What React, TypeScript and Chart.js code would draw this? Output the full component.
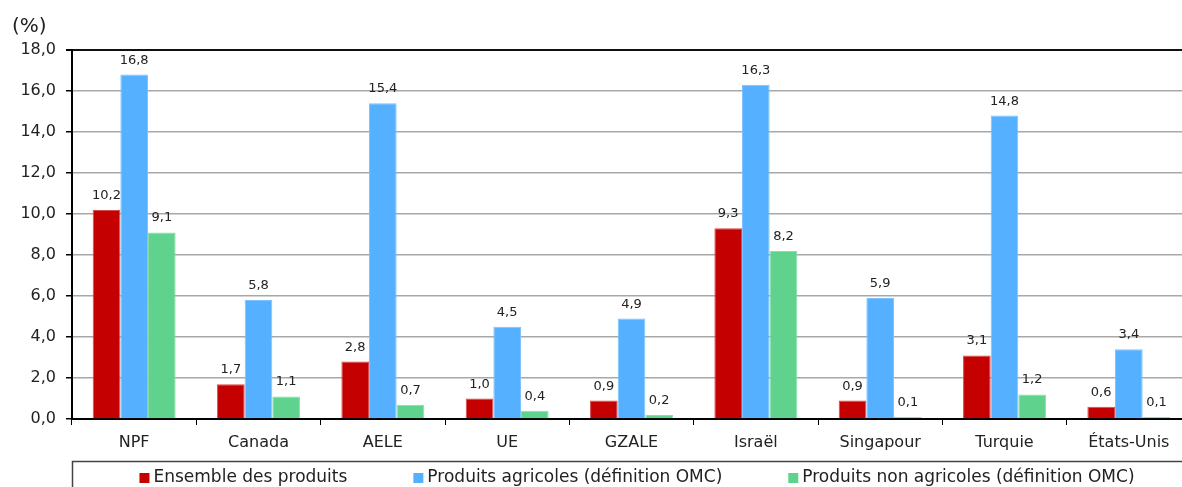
import React, { useEffect, useRef } from "react";
import { Chart, registerables } from "chart.js";

Chart.register(...registerables);

const categories = ["NPF", "Canada", "AELE", "UE", "GZALE", "Israël", "Singapour", "Turquie", "États-Unis"];
const ensemble = [10.2, 1.7, 2.8, 1.0, 0.9, 9.3, 0.9, 3.1, 0.6];
const agricoles = [16.8, 5.8, 15.4, 4.5, 4.9, 16.3, 5.9, 14.8, 3.4];
const nonAgricoles = [9.1, 1.1, 0.7, 0.4, 0.2, 8.2, 0.1, 1.2, 0.1];
const seriesNames = [
  "Ensemble des produits",
  "Produits agricoles (définition OMC)",
  "Produits non agricoles (définition OMC)",
];
const yTicks = [0, 2, 4, 6, 8, 10, 12, 14, 16, 18];
const unitLabel = "(%)";

const FONT = "'DejaVu Sans', Verdana, sans-serif";
const TEXT = "#222";
const fmt = (v: number) => v.toFixed(1).replace(".", ",");

const valueLabels = {
  id: "valueLabels",
  afterDatasetsDraw(chart: any) {
    const { ctx } = chart;
    ctx.save();
    ctx.font = `13px ${FONT}`;
    ctx.fillStyle = TEXT;
    ctx.textAlign = "center";
    ctx.textBaseline = "alphabetic";
    chart.data.datasets.forEach((ds: any, i: number) => {
      const meta = chart.getDatasetMeta(i);
      meta.data.forEach((el: any, j: number) => {
        ctx.fillText(fmt(ds.data[j]), el.x, el.y - 11);
      });
    });
    ctx.restore();
  },
};

const frame = {
  id: "frame",
  afterDraw(chart: any) {
    const { ctx, chartArea } = chart;
    ctx.save();
    // unit caption
    ctx.font = `20px ${FONT}`;
    ctx.fillStyle = TEXT;
    ctx.textAlign = "left";
    ctx.textBaseline = "middle";
    ctx.fillText(unitLabel, 12, 27);

    // boxed legend
    const top = 461.5;
    ctx.strokeStyle = "#444";
    ctx.lineWidth = 1.5;
    ctx.strokeRect(chartArea.left + 0.5, top, chart.width, 60);

    ctx.font = `17px ${FONT}`;
    const sw = 10;
    const gapSwatch = 4;
    const gapItem = 66;
    const items = chart.data.datasets.map((ds: any) => ({
      label: ds.label,
      color: ds.backgroundColor,
      w: sw + gapSwatch + ctx.measureText(ds.label).width,
    }));
    const total = items.reduce((s: number, it: any) => s + it.w, 0) + gapItem * (items.length - 1);
    let x = 637 - total / 2;
    const cy = 477;
    items.forEach((it: any) => {
      ctx.fillStyle = it.color;
      ctx.fillRect(x, cy - 4, sw, sw);
      ctx.fillStyle = TEXT;
      ctx.textBaseline = "middle";
      ctx.fillText(it.label, x + sw + gapSwatch, cy + 1);
      x += it.w + gapItem;
    });
    ctx.restore();
  },
};

export default function App() {
  const ref = useRef<HTMLCanvasElement | null>(null);

  useEffect(() => {
    if (!ref.current) return;
    const chart = new Chart(ref.current, {
      type: "bar",
      data: {
        labels: categories,
        datasets: [
          { label: seriesNames[0], data: ensemble, backgroundColor: "#c40000", borderColor: "#d84a4a", borderWidth: 1 },
          { label: seriesNames[1], data: agricoles, backgroundColor: "#55b1ff", borderColor: "#7cc2ff", borderWidth: 1 },
          { label: seriesNames[2], data: nonAgricoles, backgroundColor: "#5fd38d", borderColor: "#86deaa", borderWidth: 1 },
        ],
      },
      options: {
        animation: false,
        responsive: false,
        layout: { padding: { top: 50, right: 9, bottom: 28, left: 0 } },
        plugins: {
          legend: { display: false },
          tooltip: { enabled: false },
          title: { display: false },
        },
        datasets: { bar: { barPercentage: 1, categoryPercentage: 0.667 } },
        scales: {
          x: {
            offset: true,
            grid: {
              display: true,
              drawOnChartArea: false,
              drawTicks: true,
              tickLength: 6,
              tickColor: "#000",
              offset: true,
            },
            border: { display: true, color: "#000", width: 2 },
            ticks: { color: TEXT, font: { family: FONT, size: 16 }, padding: 8, maxRotation: 0 },
            afterFit: (s: any) => {
              s.height = 40;
            },
          },
          y: {
            min: 0,
            max: 18,
            afterBuildTicks: (s: any) => {
              s.ticks = yTicks.map((v) => ({ value: v }));
            },
            grid: {
              color: (c: any) => (c.tick && c.tick.value === 18 ? "#111" : "#a8a8a8"),
              lineWidth: (c: any) => (c.tick && c.tick.value === 18 ? 2 : 1.5),
              tickLength: 6,
              tickColor: "#000",
            },
            border: { display: true, color: "#000", width: 2 },
            ticks: {
              color: TEXT,
              font: { family: FONT, size: 16 },
              padding: 10,
              callback: (v: any) => fmt(Number(v)),
            },
            afterFit: (s: any) => {
              s.width = 72;
            },
          },
        },
      },
      plugins: [valueLabels, frame],
    });
    return () => chart.destroy();
  }, []);

  return (
    <div style={{ position: "fixed", left: 0, top: 0, width: 1182, height: 487, overflow: "hidden", background: "#fff" }}>
      <canvas ref={ref} width={1200} height={487} style={{ display: "block" }} />
    </div>
  );
}
